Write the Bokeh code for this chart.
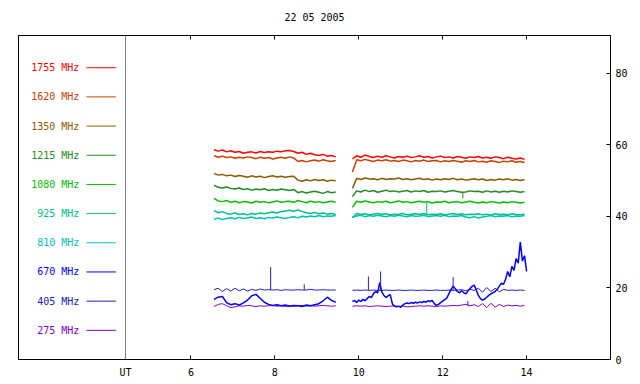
from bokeh.plotting import figure
from bokeh.models import Range1d, LinearAxis, FixedTicker, Span
from bokeh.embed import file_html
from bokeh.resources import INLINE
from bokeh.core.properties import value

FONT = "DejaVu Sans Mono"

# ---------------- data ----------------
title_text = "22 05 2005"
freqs = ["1755 MHz", "1620 MHz", "1350 MHz", "1215 MHz", "1080 MHz",
         "925 MHz", "810 MHz", "670 MHz", "405 MHz", "275 MHz"]
colors = ["#ff0000", "#c84000", "#8b5a00", "#228b22", "#00c000",
          "#00c080", "#00c0c0", "#0000ff", "#2020c0", "#8000c0"]
x_ticks = [6, 8, 10, 12, 14]
y_ticks = [0, 20, 40, 60, 80]
ut_x = 4.44

t_a = [6.55, 6.65, 6.75, 6.85, 6.95, 7.05, 7.15, 7.25, 7.35, 7.45,
       7.55, 7.65, 7.75, 7.85, 7.95, 8.05, 8.15, 8.25, 8.35, 8.45,
       8.55, 8.65, 8.75, 8.85, 8.95, 9.05, 9.15, 9.25, 9.35, 9.45]
t_b = [9.85, 9.95, 10.05, 10.15, 10.25, 10.35, 10.45, 10.55, 10.65, 10.75,
       10.85, 10.95, 11.05, 11.15, 11.25, 11.35, 11.45, 11.55, 11.65, 11.75,
       11.85, 11.95, 12.05, 12.15, 12.25, 12.35, 12.45, 12.55, 12.65, 12.75,
       12.85, 12.95, 13.05, 13.15, 13.25, 13.35, 13.45, 13.55, 13.65, 13.75,
       13.85, 13.95]
t_b_fine = [9.85, 9.90, 9.95, 10.00, 10.05, 10.10, 10.15, 10.20, 10.25, 10.30,
            10.35, 10.40, 10.45, 10.50, 10.55, 10.60, 10.65, 10.70, 10.75, 10.80,
            10.85, 10.90, 10.95, 11.00, 11.05, 11.10, 11.15, 11.20, 11.25, 11.30,
            11.35, 11.40, 11.45, 11.50, 11.55, 11.60, 11.65, 11.70, 11.75, 11.80,
            11.85, 11.90, 11.95, 12.00, 12.05, 12.10, 12.15, 12.20, 12.25, 12.30,
            12.35, 12.40, 12.45, 12.50, 12.55, 12.60, 12.65, 12.70, 12.75, 12.80,
            12.85, 12.90, 12.95, 13.00, 13.05, 13.10, 13.15, 13.20, 13.25, 13.30,
            13.35, 13.40, 13.45, 13.50, 13.55, 13.60, 13.65, 13.70, 13.75, 13.80,
            13.85, 13.90, 13.95, 14.00]

f1755_a = [58.6, 58.2, 58.5, 58.0, 58.3, 57.9, 58.1, 57.6, 57.9, 58.0,
           57.7, 58.1, 57.8, 58.0, 57.9, 58.2, 58.0, 58.3, 58.4, 58.1,
           57.6, 57.9, 57.3, 57.6, 57.2, 57.0, 57.3, 56.8, 57.0, 56.6]
f1755_b = [56.0, 56.9, 56.5, 57.1, 56.7, 56.4, 56.8, 56.5, 56.9, 56.6,
           56.3, 56.7, 56.5, 56.8, 56.4, 56.6, 56.9, 56.5, 56.7, 56.3,
           56.6, 56.8, 56.4, 56.6, 56.3, 56.7, 56.5, 56.2, 56.6, 56.4,
           56.7, 56.3, 56.5, 56.2, 56.6, 56.4, 56.1, 56.5, 56.2, 56.0,
           56.3, 55.9]
f1620_a = [56.9, 56.5, 56.8, 56.4, 56.6, 56.2, 56.5, 56.3, 56.6, 56.4,
           56.1, 56.5, 56.2, 56.4, 56.0, 56.3, 56.5, 56.2, 56.6, 56.3,
           55.3, 55.6, 55.2, 55.5, 55.7, 55.4, 55.8, 55.5, 55.3, 55.6]
f1620_b = [52.4, 55.8, 55.5, 55.9, 55.6, 55.3, 55.7, 55.5, 55.8, 55.4,
           55.6, 55.3, 55.7, 55.5, 55.2, 55.6, 55.4, 55.7, 55.3, 55.5,
           55.6, 55.2, 55.5, 55.3, 55.6, 55.4, 55.1, 55.5, 55.3, 55.6,
           55.2, 55.4, 55.1, 55.5, 55.3, 55.0, 55.4, 55.2, 55.5, 55.1,
           55.3, 55.0]
f1350_a = [52.0, 51.5, 51.7, 51.3, 51.5, 51.1, 51.4, 51.2, 50.9, 51.3,
           51.0, 51.2, 50.8, 51.1, 51.3, 51.0, 51.2, 50.9, 51.1, 51.2,
           50.1, 49.8, 50.2, 49.9, 50.3, 50.0, 50.2, 49.8, 50.1, 49.9]
f1350_b = [47.8, 50.6, 50.3, 50.7, 50.4, 50.5, 50.2, 50.6, 50.3, 50.5,
           50.4, 50.7, 50.3, 50.5, 50.2, 50.4, 50.6, 50.3, 50.5, 50.1,
           50.4, 50.2, 50.5, 50.3, 50.6, 50.2, 50.4, 50.1, 50.3, 50.5,
           50.2, 50.4, 50.0, 50.3, 50.1, 50.4, 50.2, 50.5, 50.1, 50.3,
           50.0, 50.2]
f1215_a = [48.7, 48.1, 47.9, 48.2, 47.8, 47.6, 47.9, 47.5, 47.7, 47.3,
           47.6, 47.4, 47.7, 47.2, 47.5, 47.3, 47.6, 47.4, 47.2, 47.5,
           46.6, 46.9, 46.5, 46.8, 47.0, 46.7, 46.4, 46.9, 46.6, 46.8]
f1215_b = [45.5, 47.1, 46.8, 47.3, 46.9, 47.2, 46.7, 47.0, 47.3, 46.9,
           47.1, 46.8, 47.0, 47.2, 46.8, 47.1, 46.9, 47.2, 46.7, 47.0,
           46.9, 47.1, 46.8, 47.0, 47.2, 46.9, 46.7, 46.8, 47.1, 46.9,
           47.0, 46.7, 47.1, 46.8, 47.0, 46.7, 47.0, 46.8, 47.1, 46.9,
           46.7, 46.9]
f1080_a = [45.0, 44.3, 44.1, 44.4, 43.9, 44.2, 43.8, 44.1, 44.0, 43.7,
           44.2, 43.9, 44.1, 43.8, 44.0, 44.3, 43.9, 44.1, 44.2, 43.9,
           44.4, 44.1, 43.8, 44.2, 43.9, 44.1, 43.8, 44.0, 44.2, 43.9]
f1080_b = [42.5, 44.2, 43.9, 44.3, 44.0, 43.8, 44.1, 43.9, 44.2, 43.8,
           44.0, 44.3, 43.9, 44.1, 43.8, 44.0, 44.2, 43.9, 44.1, 43.7,
           44.0, 43.9, 44.2, 43.8, 44.0, 44.1, 43.8, 44.0, 44.2, 43.9,
           43.7, 44.0, 43.8, 44.1, 43.9, 43.7, 44.0, 43.8, 44.1, 43.9,
           43.7, 43.9]
f925_a = [41.6, 41.0, 41.3, 40.8, 40.6, 40.9, 40.5, 40.7, 40.4, 40.8,
          40.6, 40.9, 40.7, 41.0, 41.2, 40.9, 41.3, 41.5, 41.7, 41.4,
          41.8, 41.3, 41.0, 40.8, 41.1, 40.7, 40.9, 40.6, 40.8, 40.5]
f925_b = [39.5, 40.8, 40.5, 40.7, 40.4, 40.6, 40.8, 40.5, 40.7, 40.4,
          40.6, 40.5, 40.8, 40.4, 40.6, 40.7, 40.5, 40.8, 40.4, 40.6,
          40.5, 40.7, 40.4, 40.6, 40.8, 40.5, 40.7, 40.4, 40.6, 40.5,
          40.7, 40.4, 40.6, 40.3, 40.7, 40.5, 40.6, 40.4, 40.7, 40.5,
          40.4, 40.6]
f810_a = [39.2, 39.5, 39.1, 39.4, 39.6, 39.3, 39.7, 39.4, 39.5, 39.8,
          39.4, 39.6, 39.3, 39.7, 39.5, 39.8, 39.6, 39.4, 39.7, 39.9,
          39.6, 40.0, 39.8, 40.1, 39.9, 40.2, 39.9, 40.1, 40.0, 40.2]
f810_b = [39.8, 40.1, 40.3, 39.9, 40.2, 40.0, 40.3, 40.1, 39.9, 40.2,
          40.0, 40.3, 40.1, 39.9, 40.2, 40.0, 40.1, 40.3, 39.9, 40.1,
          40.2, 40.0, 40.3, 39.9, 40.1, 40.0, 40.2, 39.8, 39.6, 39.9,
          39.5, 39.8, 40.0, 40.2, 39.9, 40.1, 40.0, 40.2, 39.9, 40.1,
          40.0, 40.2]
f670_a = [16.8, 17.4, 17.6, 15.9, 15.3, 15.6, 15.2, 15.8, 16.6, 17.8,
          18.2, 17.1, 16.0, 15.4, 15.1, 15.3, 15.0, 15.2, 14.9, 15.1,
          15.0, 14.8, 15.2, 15.0, 15.3, 15.6, 16.4, 17.4, 16.5, 16.0]
f670_b = [16.2, 16.5, 15.9, 16.6,
          16.2, 16.8, 16.4, 17.0, 17.6, 17.3, 18.4, 19.0, 18.6, 21.5,
          18.8, 17.9, 17.3, 17.8, 18.1, 15.6, 14.9, 14.7, 14.9, 14.6,
          15.2, 15.6, 15.8, 15.6, 15.9, 15.7, 16.0, 15.8, 16.1, 15.9,
          16.2, 16.0, 16.4, 16.2, 16.5, 15.6, 15.1, 15.4, 15.9, 16.3,
          16.7, 17.2, 18.4, 19.6, 20.5, 19.8, 19.0, 18.6, 19.2, 18.7,
          18.3, 19.1, 19.8, 20.4, 20.8, 19.5, 17.9, 17.0, 16.6, 16.9,
          17.4, 17.9, 18.3, 18.7, 19.0, 19.6, 20.5, 21.3, 21.0, 22.4,
          24.6, 23.1, 26.0, 24.9, 28.2, 26.9, 32.8, 27.5, 29.0, 24.6]
f405_a = [19.5, 19.9, 19.0, 19.8, 19.1, 19.9, 19.2, 19.7, 19.1, 19.6,
          19.3, 19.7, 19.4, 19.5, 19.4, 19.5, 19.3, 19.5, 19.4, 19.4,
          19.5, 19.4, 19.4, 19.6, 19.4, 19.4, 19.5, 19.4, 19.4, 19.4]
f405_b = [19.3, 19.4, 19.3, 19.4, 19.3, 19.4, 19.3, 19.3, 19.4, 19.3,
          19.3, 19.4, 19.3, 19.3, 19.4, 19.3, 19.3, 19.4, 19.3, 19.3,
          19.4, 19.3, 19.3, 19.4, 19.3, 19.4, 19.5, 19.2, 19.6, 19.3,
          19.9, 18.8, 20.1, 19.0, 19.9, 18.9, 19.6, 19.3, 19.4, 19.3,
          19.4, 19.3]
f275_a = [14.8, 15.4, 15.6, 15.0, 14.5, 14.7, 15.0, 14.9, 15.1, 15.0,
          14.8, 15.0, 14.9, 15.0, 15.1, 14.9, 15.0, 14.8, 15.0, 14.9,
          15.0, 15.1, 14.9, 15.0, 14.9, 15.0, 15.1, 15.0, 14.9, 15.0]
f275_b = [14.9, 15.0, 14.9, 15.0, 14.8, 14.9, 15.0, 14.9, 14.8, 14.9,
          15.0, 14.8, 14.9, 14.7, 14.8, 14.9, 15.0, 14.9, 15.0, 14.9,
          14.8, 15.0, 14.9, 15.0, 15.1, 15.0, 15.2, 15.4, 15.0, 15.3,
          14.8, 15.6, 14.5, 15.7, 14.6, 15.4, 14.8, 15.2, 15.0, 15.1,
          14.9, 15.1]

# short single-sample spikes: time, base, top, series index
spike_t = [7.90, 8.70, 10.23, 10.52, 12.25, 11.62, 12.60, 12.48]
spike_lo = [19.4, 19.4, 19.3, 19.3, 19.3, 40.6, 14.9, 46.8]
spike_hi = [25.8, 21.0, 23.2, 24.6, 23.0, 44.0, 16.3, 45.0]
spike_series = [8, 8, 8, 8, 8, 5, 9, 3]

series = [
    (t_a, f1755_a, t_b, f1755_b),
    (t_a, f1620_a, t_b, f1620_b),
    (t_a, f1350_a, t_b, f1350_b),
    (t_a, f1215_a, t_b, f1215_b),
    (t_a, f1080_a, t_b, f1080_b),
    (t_a, f925_a, t_b, f925_b),
    (t_a, f810_a, t_b, f810_b),
    (t_a, f670_a, t_b_fine, f670_b),
    (t_a, f405_a, t_b, f405_b),
    (t_a, f275_a, t_b, f275_b),
]
widths = [1.5, 1.5, 1.5, 1.5, 1.5, 1.5, 1.5, 1.5, 1.0, 1.0]

# ---------------- figure ----------------
p = figure(width=640, height=384, x_range=Range1d(1.89, 16.0), y_range=Range1d(0, 90.5),
           output_backend="svg", toolbar_location=None, y_axis_location="right",
           min_border_left=18, min_border_right=30, min_border_top=35, min_border_bottom=25)
p.grid.visible = False
p.outline_line_color = "black"
p.outline_line_alpha = 1.0
p.background_fill_color = "white"
p.border_fill_color = "white"

xa = p.xaxis[0]
xa.ticker = FixedTicker(ticks=[ut_x] + x_ticks)
xa.major_label_overrides = {ut_x: "UT"}
xa.major_tick_in = 4
xa.major_tick_out = 0
xa.minor_tick_line_color = None
xa.axis_line_color = "black"
xa.major_tick_line_color = "black"
xa.major_label_text_font = FONT
xa.major_label_text_font_size = "10px"
xa.major_label_text_color = "black"
xa.major_label_standoff = 7

ya = p.yaxis[0]
ya.ticker = FixedTicker(ticks=y_ticks)
ya.major_tick_in = 4
ya.major_tick_out = 0
ya.minor_tick_line_color = None
ya.axis_line_color = "black"
ya.major_tick_line_color = "black"
ya.major_label_text_font = FONT
ya.major_label_text_font_size = "10px"
ya.major_label_text_color = "black"
ya.major_label_standoff = 5

# top axis: ticks only, the date shown as its label (acts as the chart title)
top_ticks = [ut_x] + x_ticks
top = LinearAxis(ticker=FixedTicker(ticks=top_ticks),
                 major_tick_in=4, major_tick_out=0, minor_tick_line_color=None,
                 major_label_overrides={t: "" for t in top_ticks},
                 axis_line_color="black", major_label_standoff=0,
                 axis_label=title_text, axis_label_text_font=FONT,
                 axis_label_text_font_size="10px", axis_label_text_font_style="normal",
                 axis_label_text_color="black", axis_label_standoff=13)
p.add_layout(top, "above")

p.add_layout(Span(location=ut_x, dimension="height", line_color="#808080", line_width=1))

# data lines, low frequencies first so high ones sit on top
for i in reversed(range(len(series))):
    ta, va, tb, vb = series[i]
    p.line(ta, va, line_color=colors[i], line_width=widths[i])
    p.line(tb, vb, line_color=colors[i], line_width=widths[i])

p.segment(x0=spike_t, y0=spike_lo, x1=spike_t, y1=spike_hi,
          line_color=[colors[k] for k in spike_series], line_width=1)

# legend drawn in the left part of the frame
leg_y = [81.5 - i * 8.15 for i in range(len(freqs))]
p.text(x=[3.34] * len(freqs), y=leg_y, text=freqs, text_color=colors,
       text_align="right", text_baseline="middle",
       text_font=value(FONT), text_font_size=value("10px"))
p.segment(x0=[3.51] * len(freqs), y0=leg_y, x1=[4.21] * len(freqs), y1=leg_y,
          line_color=colors, line_width=1)

open("out.html", "w").write(file_html(p, INLINE))
